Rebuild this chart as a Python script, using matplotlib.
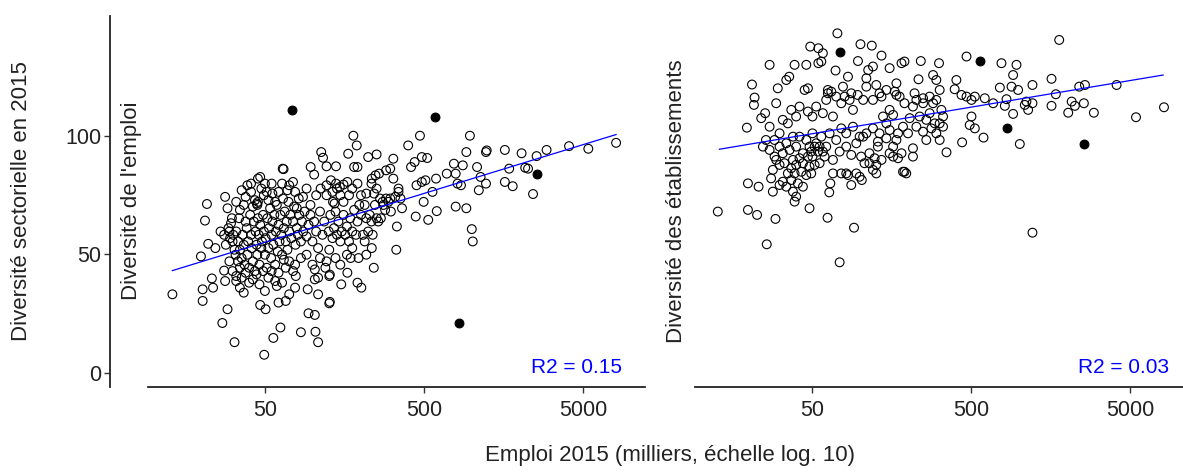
import numpy as np
import matplotlib
matplotlib.use("Agg")
import matplotlib.pyplot as plt

plt.rcParams['font.family'] = ['Liberation Sans', 'DejaVu Sans']

# Diversité de l'emploi : (emploi 2015 en milliers, diversité)
emploi_isoles = np.array([
    (13.1, 33.2), (20.3, 35.3), (20.3, 30.4), (19.8, 49.2), (21.6, 71.3), (21.0, 64.3), (22.0, 54.5), (23.6, 36.0),
    (23.2, 39.9), (24.4, 52.7), (27.0, 21.1), (28.1, 74.3), (29.1, 69.5), (28.1, 38.8), (27.7, 43.2), (29.1, 26.9),
    (32.2, 13.0), (29.9, 59.7), (30.6, 63.2), (31.3, 55.5), (32.2, 52.0), (33.9, 47.1), (34.8, 44.4), (33.0, 40.9),
    (35.7, 77.1), (36.8, 70.9), (36.8, 33.9), (34.8, 36.0), (38.8, 79.2), (40.9, 79.9), (43.3, 72.9), (44.8, 70.9),
    (44.5, 71.5), (45.2, 82.0), (46.7, 82.7), (46.7, 28.7), (50.5, 26.9), (50.0, 34.6), (49.5, 7.7), (49.2, 75.0),
    (51.3, 76.4), (55.1, 79.9), (58.0, 72.2), (56.5, 14.8), (62.6, 19.2), (60.9, 29.7), (67.6, 30.4), (64.7, 86.2),
    (65.5, 86.0), (59.4, 36.7), (64.1, 38.1), (65.8, 47.8), (71.1, 79.2), (77.4, 76.4), (81.6, 73.6), (71.1, 33.2),
    (77.4, 36.0), (75.1, 43.0), (78.2, 40.9), (84.2, 17.2), (94.0, 25.2), (103, 24.5), (92.9, 35.3), (103, 39.5),
    (108, 33.2), (97, 86.9), (102, 83.7), (103, 43.7), (108, 40.2), (104, 17.4), (108, 13.0), (113, 93.2),
    (116, 90.8), (120, 44.4), (122, 87.2), (127, 40.9), (128, 41.5), (127, 29.4), (128, 30.0), (127, 52.0),
    (130, 81.3), (140, 79.9), (148, 78.5), (156, 79.5), (165, 80.6), (140, 87.2), (134, 72.2), (137, 71.5),
    (151, 37.4), (165, 42.3), (167, 92.5), (173, 48.5), (180, 100.1), (182, 86.9), (191, 86.9), (189, 96.0),
    (194, 48.5), (191, 38.1), (202, 36.0), (212, 55.5), (235, 52.7), (223, 91.1), (252, 92.2), (242, 44.4),
    (235, 82.0), (248, 83.4), (261, 84.1), (268, 65.3), (275, 72.2), (289, 73.6), (307, 73.6), (289, 85.5),
    (307, 86.2), (321, 90.4), (321, 82.0), (335, 52.0), (338, 61.8), (346, 76.4), (356, 73.6), (364, 69.5),
    (398, 96.0), (415, 86.9), (437, 89.0), (444, 66.0), (449, 79.2), (472, 100.1), (485, 91.1), (524, 90.7),
    (485, 80.6), (511, 81.3), (498, 72.2), (532, 64.6), (566, 76.4), (596, 82.0), (602, 68.3), (696, 84.1),
    (772, 88.3), (792, 84.1), (792, 70.2), (813, 79.9), (855, 79.2), (878, 87.6), (924, 93.2), (924, 69.5),
    (973, 100.1), (1000, 60.7), (1014, 55.5), (1079, 86.9), (1107, 77.1), (1136, 82.7), (1228, 93.2), (1241, 93.9),
    (1228, 79.9), (1614, 94.1), (1614, 80.6), (1718, 86.2), (1808, 78.8), (2057, 92.7), (2167, 86.6), (2258, 86.2),
    (2427, 75.5), (2556, 91.5), (2953, 94.1), (4088, 95.7), (5404, 94.6), (8080, 97.1),
])

emploi_nuage = np.array([
    (26.3, 59.7), (27.7, 58.3), (28.4, 54.1), (29.5, 61.1), (30.2, 56.9), (31.0, 65.3), (31.6, 58.3), (32.7, 49.9),
    (33.0, 59.7), (33.9, 55.5), (34.4, 65.3), (34.8, 52.0), (35.7, 48.5), (36.3, 58.3), (36.8, 54.1), (37.2, 45.7),
    (37.8, 63.9), (38.4, 61.1), (38.8, 49.9), (39.2, 55.5), (39.8, 44.4), (40.4, 66.7), (40.9, 58.3), (41.3, 52.7),
    (42.0, 47.1), (42.6, 63.9), (43.3, 43.0), (43.7, 59.7), (44.3, 54.1), (44.8, 49.9), (45.2, 65.3), (45.7, 58.3),
    (46.2, 45.7), (46.7, 62.5), (47.5, 52.7), (47.9, 55.5), (48.7, 66.7), (49.2, 59.7), (50.0, 49.9), (50.5, 56.9),
    (51.3, 44.4), (51.8, 65.3), (52.6, 52.7), (53.1, 61.1), (53.9, 69.5), (54.7, 48.5), (55.1, 58.3), (55.7, 63.9),
    (56.5, 54.1), (57.3, 66.7), (58.0, 45.7), (58.6, 59.7), (59.4, 70.9), (60.2, 51.3), (60.9, 62.5), (61.8, 55.5),
    (62.6, 66.7), (63.4, 58.3), (64.1, 49.9), (65.0, 73.6), (65.8, 61.1), (66.6, 68.1), (67.6, 55.5), (68.6, 63.9),
    (69.3, 52.0), (70.4, 72.2), (71.1, 59.7), (72.2, 66.7), (73.3, 56.9), (75.1, 63.9), (76.3, 70.2), (77.8, 54.1),
    (79.4, 61.1), (80.7, 58.3), (82.2, 66.7), (84.2, 55.5), (85.5, 63.9), (87.1, 59.7), (88.7, 68.1), (91.4, 57.6),
    (94.0, 62.5), (96.7, 66.7), (99.5, 55.5), (102, 63.9), (105, 59.7), (108, 52.7), (111, 68.1), (115, 58.3),
    (118, 63.9), (122, 75.0), (126, 59.7), (129, 66.7), (133, 56.9), (136, 61.1), (139, 68.1), (142, 58.3),
    (145, 63.9), (149, 55.5), (152, 59.7), (156, 66.7), (160, 58.3), (164, 61.8), (169, 55.5), (172, 65.3),
    (177, 59.7), (182, 68.8), (187, 58.3), (191, 63.9), (196, 70.9), (201, 66.7), (207, 58.3), (212, 70.9),
    (217, 65.3), (223, 59.7), (228, 66.7), (234, 63.9), (238, 58.3), (243, 75.7), (246, 70.9), (252, 65.3),
    (258, 63.9), (265, 73.6), (278, 70.9), (285, 68.8), (299, 72.2), (310, 68.1), (330, 74.3), (346, 77.8),
    (29.9, 47.1), (31.3, 43.0), (33.0, 38.8), (35.7, 40.2), (37.8, 42.3), (39.8, 38.1), (42.0, 39.5), (44.3, 41.6),
    (46.2, 37.4), (48.7, 43.0), (52.6, 40.2), (55.1, 43.0), (58.0, 38.8), (60.9, 42.3), (67.6, 44.4), (71.1, 47.1),
    (77.4, 45.7), (84.2, 48.5), (91.4, 49.9), (99.5, 45.7), (111, 48.5), (122, 47.1), (139, 48.5), (149, 45.7),
    (164, 49.9), (177, 52.7), (217, 49.9),
    (33.0, 72.2), (34.8, 68.8), (37.8, 74.3), (40.9, 76.4), (42.0, 70.2), (45.2, 72.2), (47.5, 77.8), (50.0, 79.9),
    (52.6, 72.9), (55.7, 75.7), (60.9, 76.4), (64.1, 79.9), (69.3, 77.1), (75.1, 80.6), (79.4, 69.5), (86.8, 74.3),
    (91.4, 77.8), (96.7, 70.9), (105, 75.0), (112, 77.8), (122, 79.2), (133, 76.4), (142, 77.8), (149, 75.0),
    (156, 72.2), (169, 75.0), (177, 77.8), (191, 79.9), (201, 75.0), (217, 75.7), (234, 79.9), (252, 77.8),
])

emploi_pleins = np.array([(73.7, 111.0), (590, 108.1), (2560, 83.8), (834, 21.1)])

# Diversité des établissements
etab_points = np.array([
    (12.8, 68.1), (19.8, 68.8), (22.6, 66.7), (19.5, 103.5), (21.0, 121.7), (21.8, 116.2), (21.6, 113.1), (26.0, 54.3),
    (27.1, 130.0), (29.5, 65.0), (19.8, 80.0), (23.1, 78.6), (24.6, 95.5), (24.0, 107.5), (25.4, 109.6), (27.7, 82.1),
    (28.4, 76.5), (29.8, 113.8), (30.5, 120.1), (34.5, 123.6), (36.0, 125.0), (38.9, 130.0), (38.9, 72.3), (39.8, 74.4),
    (46.1, 130.0), (48.8, 137.7), (54.9, 137.0), (58.6, 134.9), (57.3, 131.4), (54.9, 130.7), (48.3, 69.5), (62.7, 65.5),
    (64.3, 76.2), (65.3, 80.0), (72.3, 143.3), (74.7, 46.7), (92.0, 61.3), (101, 138.7), (119, 138.1), (137, 133.9),
    (97.4, 131.6), (70.4, 127.6), (84.3, 125.0), (113, 127.8), (121, 129.3), (154, 128.6), (183, 130.7), (191, 131.4),
    (242, 131.6), (315, 130.7), (234, 123.9), (289, 125.7), (303, 123.6), (318, 119.4), (405, 123.6), (395, 119.7),
    (469, 133.5), (778, 130.7), (967, 130.0), (921, 125.7), (760, 120.4), (900, 120.8), (990, 119.4), (1219, 121.5),
    (1606, 124.1), (1795, 140.5), (1710, 117.6), (2399, 120.8), (2606, 121.5), (4121, 121.5), (8185, 112.1), (5458, 107.9),
    (2965, 109.8), (2566, 113.8), (2046, 109.8), (2253, 112.7), (2150, 114.5), (1606, 112.7), (1219, 113.8), (1117, 114.5),
    (1145, 111.0), (1091, 113.1), (921, 109.3), (837, 115.5), (817, 112.7), (690, 113.8), (611, 115.9), (529, 116.6),
    (504, 115.2), (469, 116.6), (436, 117.3), (504, 108.2), (491, 104.6), (529, 103.2), (600, 99.3), (440, 97.3),
    (1015, 96.6), (1219, 59.2), (351, 93.1), (318, 98.3), (334, 108.2), (326, 111.0), (303, 115.2), (275, 116.6),
    (250, 113.8), (227, 115.2), (216, 112.4), (221, 118.0), (191, 113.8), (178, 116.6), (166, 118.7), (170, 117.3),
    (154, 111.0), (162, 108.9), (147, 105.3), (140, 108.2), (133, 118.0), (121, 115.2), (110, 120.8), (105, 115.2),
    (97, 117.3), (90.6, 111.0), (86.3, 115.2), (80.3, 116.6), (76.5, 113.8), (71.1, 116.6), (66.2, 118.7), (63.0, 119.4),
    (61.5, 115.2), (58.6, 109.6), (53.2, 112.4), (50.4, 108.2), (47.2, 110.3), (45.0, 119.4), (47.2, 120.1), (41.8, 112.4),
    (39.8, 108.2), (37.1, 111.0), (35.3, 105.3), (32.8, 106.8), (31.3, 101.1), (29.1, 98.3), (27.1, 103.9), (25.7, 98.3),
    (27.1, 94.1), (29.1, 91.3), (31.3, 87.8), (33.6, 88.5), (35.3, 84.2), (32.8, 80.7), (31.3, 79.3), (34.5, 78.6),
    (37.1, 81.4), (38.0, 76.5), (40.8, 80.0), (43.9, 78.6), (46.1, 83.5), (49.5, 84.2), (52.0, 87.8), (55.9, 88.5),
    (60.1, 91.3), (67.8, 89.9), (74.7, 93.4), (82.2, 95.5), (88.4, 92.0), (95.1, 96.9), (102, 91.3), (107, 88.5),
    (115, 92.7), (121, 85.7), (127, 87.8), (130, 97.6), (137, 89.9), (147, 99.0), (162, 95.5), (174, 90.6),
    (183, 92.7), (187, 84.9), (196, 84.2), (216, 94.8), (201, 101.1), (227, 103.9), (250, 101.8), (262, 106.8),
    (282, 103.2), (296, 105.3), (318, 105.3), (275, 109.6), (238, 108.2), (206, 107.5), (187, 103.9), (174, 101.1),
    (154, 102.5), (133, 101.1), (121, 103.2), (110, 101.1), (99.8, 99.7), (105, 99.7), (90.6, 103.9), (82.2, 101.1),
    (76.5, 103.2), (71.1, 98.3), (67.8, 108.2), (64.6, 101.1), (61.5, 95.5), (57.3, 99.7), (53.2, 96.9), (50.4, 101.1),
    (48.3, 95.5), (46.1, 98.3), (43.9, 92.7), (41.8, 99.7), (39.8, 95.5), (38.0, 99.7), (36.2, 94.1), (34.5, 96.9),
    (32.8, 92.7), (31.3, 95.5), (29.8, 89.9), (28.4, 85.7), (43.9, 88.5), (47.2, 91.3), (49.5, 93.4), (52.0, 95.5),
    (54.6, 93.4), (55.9, 95.5), (58.6, 93.4), (41.8, 90.6), (39.8, 87.8), (38.0, 89.9), (37.1, 86.4), (38.9, 84.2),
    (42.9, 84.9), (48.3, 87.1), (50.4, 91.3), (67.8, 84.2), (76.5, 84.2), (84.3, 83.5), (99.8, 82.8), (103, 81.4),
    (95.1, 84.2), (115, 88.5), (124, 90.6), (127, 84.2), (88.4, 79.3), (82.2, 84.2), (191, 84.9), (162, 91.3),
    (170, 98.3), (154, 92.7), (130, 95.5), (216, 91.3), (262, 98.3), (303, 101.1), (334, 103.9), (289, 113.8),
    (250, 115.9), (170, 122.2), (147, 119.4), (137, 116.6), (127, 121.5), (110, 124.3), (88.4, 118.0), (78.4, 120.8),
    (63.0, 118.0),
])

etab_pleins = np.array([(74.7, 135.3), (574, 131.6), (837, 103.2), (2566, 96.6)])

# droites de régression (extrémités)
fit_x = [13.1, 8080]
fit_emploi = [43.2, 100.6]
fit_etab = [94.4, 125.7]
r2_labels = ["R2 = 0.15", "R2 = 0.03"]

W, H = 1183, 472
fig = plt.figure(figsize=(W / 100, H / 100), dpi=100)


def px_box(x0, y0, x1, y1):
    return [x0 / W, 1 - y1 / H, (x1 - x0) / W, (y1 - y0) / H]


ax1 = fig.add_axes(px_box(148, 16, 645, 387))
ax2 = fig.add_axes(px_box(695, 16, 1192, 387))

panels = [
    (ax1, [emploi_isoles, emploi_nuage], emploi_pleins, fit_emploi, r2_labels[0]),
    (ax2, [etab_points], etab_pleins, fit_etab, r2_labels[1]),
]

for ax, open_sets, full, fit_y, r2 in panels:
    for pts in open_sets:
        ax.scatter(pts[:, 0], pts[:, 1], s=40, facecolors='none', edgecolors='black', linewidths=0.8)
    ax.scatter(full[:, 0], full[:, 1], s=40, color='black', linewidths=0.8)
    ax.plot(fit_x, fit_y, color='blue', lw=0.9, zorder=3)
    ax.text(8790, 2.5, r2, color='blue', fontsize=15, ha='right', va='center')
    ax.set_xscale('log')
    ax.set_xlim(9.2, 12280)
    ax.set_ylim(-5.9, 150.6)
    ax.set_xticks([50, 500, 5000])
    ax.set_xticklabels(['50', '500', '5000'])
    ax.minorticks_off()
    for side in ['top', 'right', 'left']:
        ax.spines[side].set_visible(False)
    ax.spines['bottom'].set_linewidth(1.3)
    ax.spines['bottom'].set_color('#222222')
    ax.tick_params(axis='x', length=4, width=1, color='#333333', labelsize=15.5, pad=5, labelcolor='#222222')
    ax.set_facecolor('none')

ax2.set_yticks([])

ax1.spines['left'].set_visible(True)
ax1.spines['left'].set_position(('outward', 27.4))
ax1.spines['left'].set_linewidth(1.3)
ax1.spines['left'].set_color('#222222')
ax1.set_yticks([0, 50, 100])
ax1.tick_params(axis='y', length=4, width=1, color='#333333', labelsize=15.5, pad=2, labelcolor='#222222')

fig.text(131 / W, 1 - 201 / H, "Diversité de l'emploi", rotation=90, fontsize=16,
         ha='center', va='center', color='#222222')
fig.text(677 / W, 1 - 201 / H, "Diversité des établissements", rotation=90, fontsize=16,
         ha='center', va='center', color='#222222')
fig.text(22 / W, 1 - 201 / H, "Diversité sectorielle en 2015", rotation=90, fontsize=16,
         ha='center', va='center', color='#222222')
fig.text(670 / W, 1 - 455 / H, "Emploi 2015 (milliers, échelle log. 10)", fontsize=16,
         ha='center', va='center', color='#222222')

fig.savefig('out.png', dpi=100)
